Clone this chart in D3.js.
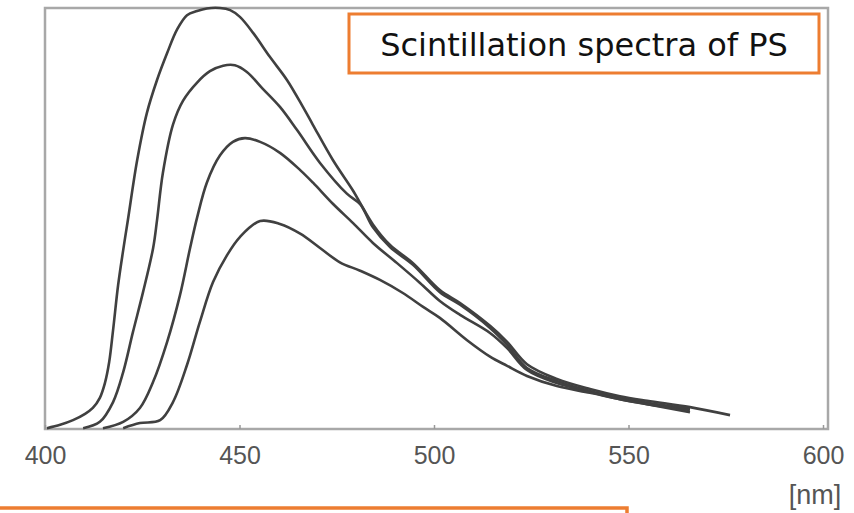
<!DOCTYPE html>
<html>
<head>
<meta charset="utf-8">
<script src="https://cdn.jsdelivr.net/npm/d3@7"></script>
<style>
  body { margin: 0; background: #fff; }
  svg { display: block; }
</style>
</head>
<body>
<div id="chart"></div>
<script>
const width = 854
const height = 513

// wavelength ticks [nm]
const xTicks = [400, 450, 500, 550, 600]

// four scintillation spectra (wavelength nm, relative intensity %)
const specA_nm = [400.5, 403.9, 407.2, 410.3, 412.3, 414.1, 415.4, 416.5, 417.5, 418.8, 420.1, 421.3, 423.7, 426.2, 428.8, 431.4, 433.9, 436.5, 439.1, 441.6, 445.0, 447.6, 450.1, 453.5, 457.8, 462.2, 466.3, 468.9, 474.0, 479.2, 481.0, 484.3, 488.7, 494.6, 501.5, 506.7, 514.4, 518.8, 523.9, 531.6, 540.1, 547.8, 554.8, 565.8, 576.1]
const specA_val = [0.2, 1.0, 2.1, 3.6, 5.0, 7.4, 10.9, 15.9, 23.5, 34.2, 42.5, 49.6, 63.9, 75.1, 82.9, 89.3, 94.8, 98.3, 99.3, 99.9, 100, 99.5, 97.9, 94.1, 88.4, 82.9, 76.5, 72.2, 63.9, 56.6, 53.7, 48.6, 43.7, 39.4, 33.0, 29.9, 24.5, 20.7, 15.4, 11.9, 9.5, 7.8, 6.7, 5.2, 3.3]

const specB_nm = [409.8, 414.1, 417.5, 420.1, 422.6, 425.2, 427.8, 428.8, 430.3, 432.9, 435.5, 439.1, 442.4, 445.8, 448.8, 451.9, 456.0, 460.4, 464.8, 470.7, 477.6, 481.0, 484.3, 488.7, 494.6, 501.5, 506.7, 514.4, 518.8, 523.9, 531.6, 540.1, 547.8, 554.8, 565.8]
const specB_val = [0.2, 1.7, 6.4, 13.5, 23.0, 32.5, 43.0, 49.6, 60.8, 72.3, 78.0, 82.3, 85.0, 86.3, 86.4, 84.8, 80.8, 76.5, 71.0, 63.2, 55.9, 53.4, 47.9, 43.2, 39.0, 32.5, 29.5, 24.0, 20.0, 14.5, 11.4, 9.0, 7.4, 6.2, 4.8]

const specC_nm = [414.9, 420.1, 424.4, 427.8, 431.4, 434.7, 437.3, 439.1, 441.6, 445.0, 448.3, 451.4, 455.3, 460.4, 465.6, 468.9, 474.0, 479.2, 484.3, 490.5, 496.4, 501.5, 506.7, 514.4, 518.8, 523.9, 531.6, 540.1, 547.8, 554.8, 565.8]
const specC_val = [0.2, 1.7, 5.0, 11.2, 20.7, 31.8, 43.0, 50.2, 58.5, 65.0, 68.2, 69.1, 68.2, 65.6, 61.5, 58.5, 53.5, 48.9, 44.2, 39.4, 34.7, 30.4, 27.1, 22.8, 19.2, 14.0, 10.9, 8.8, 7.1, 5.9, 4.5]

const specD_nm = [420.1, 424.4, 429.6, 432.9, 436.5, 439.8, 443.2, 446.8, 450.1, 455.3, 460.4, 465.6, 470.7, 475.8, 481.0, 486.1, 492.0, 497.2, 501.5, 508.5, 514.4, 518.8, 523.9, 531.6, 540.1, 547.8, 554.8, 565.8]
const specD_val = [0.2, 1.4, 2.1, 6.4, 15.2, 25.4, 34.9, 41.3, 45.6, 49.4, 48.7, 46.4, 43.0, 39.6, 37.6, 35.4, 32.3, 29.0, 26.4, 21.1, 17.2, 15.0, 12.6, 10.2, 8.6, 7.1, 5.9, 4.0]

const titleText = "Scintillation spectra of PS"
const unitText = "[nm]"

const spectra = [
  [specA_nm, specA_val],
  [specB_nm, specB_val],
  [specC_nm, specC_val],
  [specD_nm, specD_val],
].map(([xs, ys]) => xs.map((x, i) => ({ x: x, y: ys[i] })))

const svg = d3
  .select("#chart")
  .append("svg")
  .attr("width", width)
  .attr("height", height)

const x = d3.scaleLinear().domain([400, 600]).range([45, 823])
const y = d3.scaleLinear().domain([0, 100]).range([429, 8])

// plot frame
svg
  .append("rect")
  .attr("x", 45)
  .attr("y", 8)
  .attr("width", 828 - 45)
  .attr("height", 429 - 8)
  .attr("fill", "none")
  .attr("stroke", "#a8a8a8")
  .attr("stroke-width", 2.5)

const xAxis = svg
  .append("g")
  .attr("transform", `translate(0,${y(0)})`)
  .call(
    d3.axisBottom(x).tickValues(xTicks).tickSize(-4).tickPadding(17).tickFormat(d3.format("d"))
  )
xAxis.select(".domain").remove()
xAxis.selectAll(".tick line").attr("stroke", "#999").attr("stroke-width", 1.5)
xAxis
  .selectAll(".tick text")
  .attr("fill", "#555")
  .style("font-family", "'Liberation Sans', Arial, sans-serif")
  .style("font-size", "25px")

svg
  .append("text")
  .attr("x", 815)
  .attr("y", 504)
  .attr("text-anchor", "middle")
  .attr("fill", "#555")
  .style("font-family", "'Liberation Sans', Arial, sans-serif")
  .style("font-size", "27px")
  .text(unitText)

const line = d3
  .line()
  .x((d) => x(d.x))
  .y((d) => y(d.y))
  .curve(d3.curveCatmullRom)

svg
  .append("g")
  .selectAll("path")
  .data(spectra)
  .join("path")
  .attr("d", line)
  .attr("fill", "none")
  .attr("stroke", "#404040")
  .attr("stroke-width", 2.6)
  .attr("stroke-linejoin", "round")

// title box
svg
  .append("rect")
  .attr("x", 349)
  .attr("y", 14)
  .attr("width", 819 - 349)
  .attr("height", 73 - 14)
  .attr("fill", "#fff")
  .attr("stroke", "#ED7D31")
  .attr("stroke-width", 3)
svg
  .append("text")
  .attr("x", 584)
  .attr("y", 56)
  .attr("text-anchor", "middle")
  .attr("fill", "#111")
  .style("font-family", "'DejaVu Sans', Verdana, sans-serif")
  .style("font-size", "32px")
  .text(titleText)

// top edge of the box below the chart
svg
  .append("rect")
  .attr("x", -5)
  .attr("y", 508)
  .attr("width", 632)
  .attr("height", 30)
  .attr("fill", "none")
  .attr("stroke", "#ED7D31")
  .attr("stroke-width", 3.5)
</script>
</body>
</html>
